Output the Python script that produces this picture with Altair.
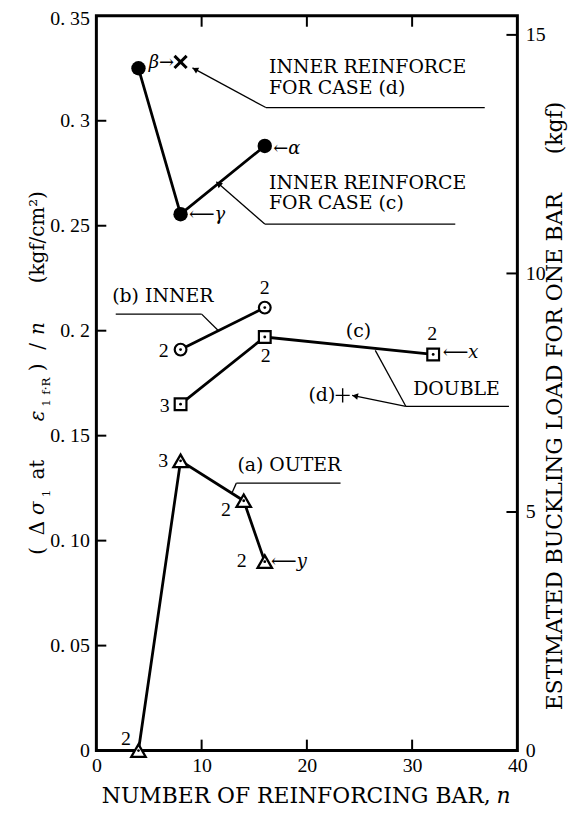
import math
import altair as alt
import pandas as pd

FONT = "DejaVu Serif, serif"          # annotation / titles
NUMF = "Liberation Serif, serif"      # numbers
W, H = 424, 740
XMAX, YMAX, KMAX = 40, 0.35, 15.4

# ---------------- data ----------------
outer_n = [4, 8, 14, 16]
outer_v = [0.000, 0.138, 0.119, 0.090]
outer_cnt = ["2", "3", "2", "2"]

inner_n = [8, 16]
inner_v = [0.191, 0.211]
inner_cnt = ["2", "2"]

double_n = [8, 16, 32]
double_v = [0.165, 0.197, 0.1887]
double_cnt = ["3", "2", "2"]

reinf_n = [4, 8, 16]
reinf_v = [0.325, 0.2555, 0.288]
reinf_tag = ["β→", "⟵γ", "←α"]

reinf_d_n = [8]
reinf_d_v = [0.328]

x_ticks = [0, 10, 20, 30, 40]
y_ticks = [0, 0.05, 0.10, 0.15, 0.20, 0.25, 0.30, 0.35]
y_labels = ["0", "0. 05", "0. 10", "0. 15", "0. 2", "0. 25", "0. 3", "0. 35"]
k_ticks = [0, 5, 10, 15]

# count labels next to the markers (x, y)
cnt_x = [2.8, 6.35, 12.3, 13.8, 6.4, 16.0, 6.5, 16.1, 31.9]
cnt_y = [0.0056, 0.1377, 0.1148, 0.0905, 0.1901, 0.2205, 0.164, 0.1877, 0.1984]
cnt_t = [outer_cnt[0], outer_cnt[1], outer_cnt[2], outer_cnt[3],
         inner_cnt[0], inner_cnt[1], double_cnt[0], double_cnt[1], double_cnt[2]]

# italic greek / letter tags (left aligned)
tag_x = [4.97, 8.8, 16.8, 32.9, 16.6]
tag_y = [0.3273, 0.2550, 0.2867, 0.1893, 0.0900]
tag_t = [reinf_tag[0], reinf_tag[1], reinf_tag[2], "⟵x", "⟵y"]

# annotation texts
note_left_x = [16.4, 16.4, 16.4, 16.4, 1.5, 30.1, 13.4]
note_left_y = [0.3257, 0.3155, 0.2702, 0.2607, 0.2166, 0.1724, 0.1361]
note_left_t = ["INNER REINFORCE", "FOR CASE (d)", "INNER REINFORCE", "FOR CASE (c)",
               "(b)  INNER", "DOUBLE", "(a)  OUTER"]
note_c = ("(c)", 24.9, 0.200)
note_d = ("(d)", 22.7, 0.1692)
plus_pt = (23.4, 0.1692)

# leader / underline segments (x, y, x2, y2)
seg_x = [16.1, 16.1, 16.0, 16.0, 1.84, 10.0, 29.4, 29.4, 29.4, 13.3, 13.3]
seg_y = [0.3063, 0.3063, 0.2508, 0.2508, 0.2079, 0.2079, 0.164, 0.164, 0.164, 0.1274, 0.1274]
seg_x2 = [36.9, 9.13, 34.1, 11.4, 10.0, 11.6, 39.2, 26.5, 24.3, 23.2, 12.9]
seg_y2 = [0.3063, 0.3252, 0.2508, 0.2709, 0.2079, 0.2000, 0.164, 0.1906, 0.1692, 0.1274, 0.1229]
arrow_idx = [1, 3, 8]  # segments ending with an arrow head

# ---------------- scales / axes ----------------
XS = alt.Scale(domain=[0, XMAX], nice=False, zero=False)
YS = alt.Scale(domain=[0, YMAX], nice=False, zero=False)
KS = alt.Scale(domain=[0, KMAX], nice=False, zero=False)

label_expr = "[" + ",".join(f"'{s}'" for s in y_labels) + f"][round(datum.value*{round(1/0.05)})]"
Y_AXIS = alt.Axis(values=y_ticks, labelExpr=label_expr, ticks=False, tickSize=0,
                  domain=False, grid=False, labelFont=NUMF, labelFontSize=20,
                  labelColor="black", labelPadding=7, title=None,
                  labelOffset={"condition": {"test": "datum.value > 0.34", "value": 3}, "value": 0})
X_AXIS = alt.Axis(values=x_ticks, ticks=False, tickSize=0, domain=False, grid=False,
                  labelFont=NUMF, labelFontSize=20, labelColor="black",
                  labelPadding=5, title=None, labelFlush=False)
K_AXIS = alt.Axis(values=k_ticks, orient="right", ticks=False, tickSize=0, domain=False,
                  grid=False, labelFont=NUMF, labelFontSize=20, labelColor="black",
                  labelPadding=8, title=None, format="d")


def ex(f="x"):
    return alt.X(f"{f}:Q", scale=XS, axis=X_AXIS)


def ey(f="y"):
    return alt.Y(f"{f}:Q", scale=YS, axis=Y_AXIS)


def df_xy(xs, ys, **extra):
    d = {"x": xs, "y": ys}
    d.update(extra)
    return pd.DataFrame(d)


# ---------------- series ----------------
rows = []
for g, ns, vs in [("a", outer_n, outer_v), ("b", inner_n, inner_v),
                  ("c", double_n, double_v), ("r", reinf_n, reinf_v)]:
    for i, (n, v) in enumerate(zip(ns, vs)):
        rows.append({"x": n, "y": v, "g": g, "o": i})
series = pd.DataFrame(rows)

lines = alt.Chart(series).mark_line(color="black", strokeWidth=2.8).encode(
    x=ex(), y=ey(), detail="g:N", order="o:Q")

tri = alt.Chart(df_xy(outer_n, outer_v)).mark_point(
    shape="triangle-up", filled=True, fill="white", stroke="black",
    strokeWidth=2.3, size=210, opacity=1).encode(x=ex(), y=ey())
circ = alt.Chart(df_xy(inner_n, inner_v)).mark_point(
    shape="circle", filled=True, fill="white", stroke="black",
    strokeWidth=2.2, size=140, opacity=1).encode(x=ex(), y=ey())
sq = alt.Chart(df_xy(double_n, double_v)).mark_point(
    shape="square", filled=True, fill="white", stroke="black",
    strokeWidth=2.2, size=140, opacity=1).encode(x=ex(), y=ey())
dots = alt.Chart(df_xy(outer_n + inner_n + double_n, outer_v + inner_v + double_v)).mark_circle(
    size=8, color="black", opacity=1).encode(x=ex(), y=ey())
full = alt.Chart(df_xy(reinf_n, reinf_v)).mark_circle(
    size=210, color="black", opacity=1).encode(x=ex(), y=ey())
xmark = alt.Chart(df_xy(reinf_d_n, reinf_d_v)).mark_point(
    shape="M-1,-1L1,1M-1,1L1,-1", filled=False, color="black",
    strokeWidth=3, size=150, opacity=1).encode(x=ex(), y=ey())
plus = alt.Chart(df_xy([plus_pt[0]], [plus_pt[1]])).mark_point(
    shape="M-1,0L1,0M0,-1L0,1", filled=False, color="black",
    strokeWidth=1.4, size=200, opacity=1).encode(x=ex(), y=ey())

# ---------------- annotations ----------------
segs = pd.DataFrame({"x": seg_x, "y": seg_y, "x2": seg_x2, "y2": seg_y2})
leaders = alt.Chart(segs).mark_rule(color="black", strokeWidth=1.3).encode(
    x=ex(), y=ey(), x2="x2:Q", y2="y2:Q")

px_x, px_y = W / XMAX, H / YMAX
ah_x, ah_y, ah_a = [], [], []
for i in arrow_idx:
    dx = (seg_x2[i] - seg_x[i]) * px_x
    dy = -(seg_y2[i] - seg_y[i]) * px_y
    L = math.hypot(dx, dy)
    ux, uy = dx / L, dy / L
    ah_x.append(seg_x2[i] - ux * 3 / px_x)
    ah_y.append(seg_y2[i] + uy * 3 / px_y)
    ah_a.append(math.degrees(math.atan2(ux, -uy)) % 360)
heads = alt.Chart(pd.DataFrame({"x": ah_x, "y": ah_y, "a": ah_a})).mark_point(
    shape="triangle-up", filled=True, color="black", size=45, opacity=1).encode(
    x=ex(), y=ey(), angle=alt.Angle("a:Q", scale=None))


def texts(d, align, size, italic=False, font=FONT):
    return alt.Chart(d).mark_text(
        align=align, baseline="middle", font=font, fontSize=size,
        fontStyle="italic" if italic else "normal", color="black").encode(
        x=ex(), y=ey(), text="t:N")


t_notes = texts(df_xy(note_left_x, note_left_y, t=note_left_t), "left", 19)
t_c = texts(df_xy([note_c[1]], [note_c[2]], t=[note_c[0]]), "center", 19)
t_d = texts(df_xy([note_d[1]], [note_d[2]], t=[note_d[0]]), "right", 19)
t_cnt = texts(df_xy(cnt_x, cnt_y, t=cnt_t), "center", 20, font=NUMF)
t_tag = texts(df_xy(tag_x, tag_y, t=tag_t), "left", 18, italic=True)

# ---------------- inward frame ticks ----------------
ytk = alt.Chart(pd.DataFrame({"y": y_ticks[1:-1]})).mark_rule(color="black", strokeWidth=2).encode(
    y=ey(), x=alt.value(0), x2=alt.value(10))
xtk_b = alt.Chart(pd.DataFrame({"x": x_ticks[1:-1]})).mark_rule(color="black", strokeWidth=2).encode(
    x=ex(), y=alt.value(H), y2=alt.value(H - 11))
xtk_t = alt.Chart(pd.DataFrame({"x": x_ticks[1:-1]})).mark_rule(color="black", strokeWidth=2).encode(
    x=ex(), y=alt.value(0), y2=alt.value(11))
ktk = alt.Chart(pd.DataFrame({"k": k_ticks[1:]})).mark_rule(color="black", strokeWidth=2).encode(
    y=alt.Y("k:Q", scale=KS, axis=K_AXIS), x=alt.value(W), x2=alt.value(W - 11))

# ---------------- titles (pixel placed pieces) ----------------
one = pd.DataFrame({"z": [0]})


def piece(t, xpx, ypx, size, italic=False, angle=270, align="center", baseline="middle"):
    return alt.Chart(one).mark_text(
        text=t, angle=angle, align=align, baseline=baseline, font=FONT, fontSize=size,
        fontStyle="italic" if italic else "normal", color="black").encode(
        x=alt.value(xpx), y=alt.value(ypx))


L0, T0 = 97, 13  # absolute position of the plot origin on the page
main_x, sub_x = 38 - L0, 46 - L0
left_title = [
    ("(", 552, "n"), ("Δ", 529, "n"), ("σ", 509, "i"), ("1", 494, "s"),
    ("at", 470, "n"), ("ε", 416, "i"), ("1", 403, "s"), ("f·R", 386, "s"),
    (")", 367, "n"), ("/", 346, "n"), ("n", 328, "i"), ("(kgf/cm²)", 236, "n"),
]
title_marks = []
for t, yabs, kind in left_title:
    if kind == "s":
        title_marks.append(piece(t, sub_x, yabs - T0, 12))
    else:
        title_marks.append(piece(t, main_x, yabs - T0, 20, italic=(kind == "i")))

right_title = [("ESTIMATED BUCKLING LOAD FOR ONE BAR", 452), ("(kgf)", 126)]
for t, yabs in right_title:
    title_marks.append(piece(t, 559 - L0, yabs - T0, 22))

title_marks.append(piece("NUMBER OF REINFORCING BAR,", 494 - L0, 806 - T0, 22,
                         angle=0, align="right", baseline="alphabetic"))
title_marks.append(piece("n", 500 - L0, 806 - T0, 22, italic=True,
                         angle=0, align="left", baseline="alphabetic"))

left_group = alt.layer(
    ytk, xtk_b, xtk_t, leaders, heads, lines, tri, circ, sq, dots, full, xmark, plus,
    t_notes, t_c, t_d, t_cnt, t_tag, *title_marks)

chart = alt.layer(left_group, ktk).resolve_scale(y="independent").properties(
    width=W, height=H,
    padding={"left": 89, "top": 5, "right": 53, "bottom": 57},
    autosize=alt.AutoSizeParams(type="none"),
    background="white",
).configure_view(stroke="black", strokeWidth=3)

chart.save("out.html", embed_options={"renderer": "svg", "actions": False})
